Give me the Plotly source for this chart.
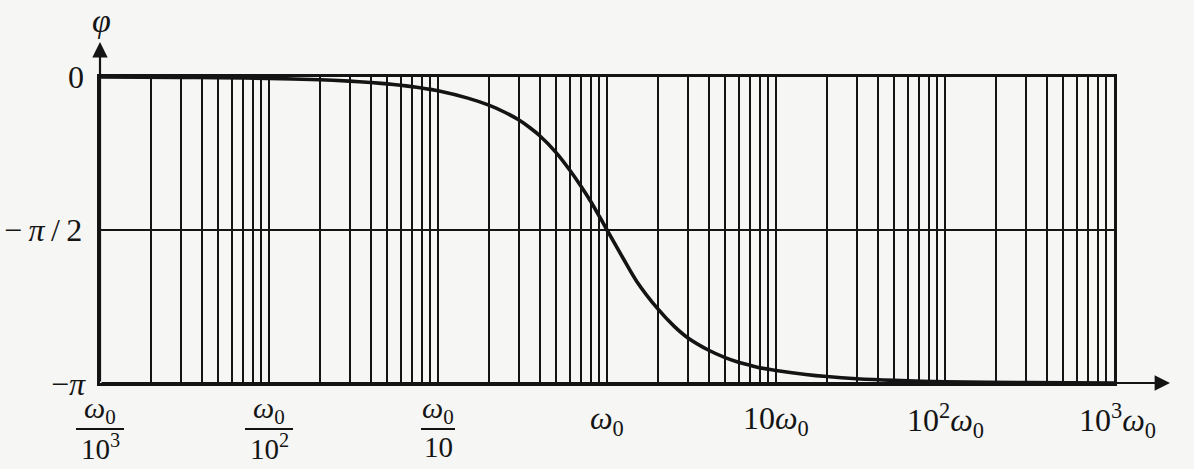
import math
import plotly.graph_objects as go

# ---- data ----
omega_ratio = [0.001, 0.003, 0.005, 0.01, 0.02, 0.03, 0.04, 0.05, 0.06, 0.07, 0.08, 0.09,
               0.1, 0.15, 0.2, 0.25, 0.3, 0.35, 0.4, 0.5, 0.6, 0.7, 0.8, 0.9, 1.0,
               1.25, 1.5, 2, 2.5, 3, 4, 5, 6, 7, 8, 10, 15, 20, 30, 50, 100, 300, 1000]
phase_over_pi = [0.0, 0.0013, 0.002, 0.0045, 0.009, 0.0135, 0.018, 0.0225, 0.027, 0.0315, 0.036, 0.0405,
                 0.045, 0.069, 0.092, 0.116, 0.140, 0.166, 0.192, 0.247, 0.303, 0.356, 0.406, 0.455, 0.5,
                 0.594, 0.668, 0.758, 0.815, 0.852, 0.893, 0.917, 0.932, 0.942, 0.950, 0.959,
                 0.972, 0.979, 0.986, 0.9915, 0.9957, 0.9985, 1.0]
phase = [-p * math.pi for p in phase_over_pi]

decade_exps = [-3, -2, -1, 0, 1, 2, 3]
minor_mults = [2, 3, 4, 5, 6, 7, 8, 9]
y_ticks = [-math.pi, -math.pi / 2, 0]
y_labels = ["−<i>π</i>", "−\u2009<i>π</i>\u2009/\u20092", "0"]
x_labels = ["", "", "", "<i>ω</i><sub>0</sub>", "10<i>ω</i><sub>0</sub>",
            "10<sup>2</sup><i>ω</i><sub>0</sub>", "10<sup>3</sup><i>ω</i><sub>0</sub>"]
frac_denoms = {-3: "10<sup>3</sup>", -2: "10<sup>2</sup>", -1: "10"}

decades = [10.0 ** k for k in decade_exps]
minors = [m * 10.0 ** k for k in decade_exps[:-1] for m in minor_mults]

# ---- layout geometry ----
W, H = 1194, 469
L, R, T, B = 100, 80, 77, 86
PW, PH = W - L - R, H - T - B
def px(x):
    return (x - L) / PW
def py(y):
    return (H - B - y) / PH

INK = "#141414"
FONT = "Liberation Serif"
FS = 32

fig = go.Figure()
fig.add_trace(go.Scatter(x=omega_ratio, y=phase, mode="lines",
                         line=dict(color=INK, width=3.6, shape="spline", smoothing=0.8),
                         hoverinfo="skip", showlegend=False))

fig.update_layout(
    width=W, height=H,
    margin=dict(l=L, r=R, t=T, b=B),
    paper_bgcolor="#f6f6f4", plot_bgcolor="#f6f6f4",
    showlegend=False,
    font=dict(family=FONT, size=FS, color=INK),
    xaxis=dict(type="log", range=[-3, 3], tickmode="array", tickvals=decades,
               showticklabels=False, ticks="", showgrid=True, gridcolor=INK, gridwidth=2,
               minor=dict(tickmode="array", tickvals=minors, showgrid=True,
                          gridcolor=INK, gridwidth=2, ticks=""),
               showline=True, linecolor=INK, linewidth=2.5, mirror=True, zeroline=False),
    yaxis=dict(range=[-math.pi, 0], tickmode="array", tickvals=y_ticks,
               showticklabels=False, ticks="", showgrid=True, gridcolor=INK, gridwidth=2,
               showline=True, linecolor=INK, linewidth=2.5, mirror=True, zeroline=False),
)

def txt(x, y, text, xanchor="center", size=FS):
    return dict(xref="paper", yref="paper", x=px(x), y=py(y), text=text,
                showarrow=False, xanchor=xanchor, yanchor="middle",
                font=dict(family=FONT, size=size, color=INK))

ann = []
# axis arrows
ann.append(dict(xref="paper", yref="paper", x=px(1170), y=py(383), ax=-(1170 - L), ay=0,
                text="", showarrow=True, arrowhead=2, arrowsize=1.4, arrowwidth=2.2, arrowcolor=INK))
ann.append(dict(xref="paper", yref="paper", x=px(100), y=py(42), ax=0, ay=(383 - 42),
                text="", showarrow=True, arrowhead=2, arrowsize=1.4, arrowwidth=2.2, arrowcolor=INK))
# axis name
ann.append(txt(101, 20, "<i>φ</i>", size=34))
# y labels
y_label_pos = [(88, 384), (84, 230), (86, 77)]
for lab, (xp, yp) in zip(y_labels, y_label_pos):
    ann.append(txt(xp, yp, lab, xanchor="right"))

shapes = []
for k, d, lab in zip(decade_exps, decades, x_labels):
    xc = L + (k + 3) / 6 * PW
    if k < 0:
        half = 24 if k < -1 else 17
        ann.append(txt(xc, 410, "<i>ω</i><sub>0</sub>", size=30))
        ann.append(txt(xc, 447, frac_denoms[k], size=29))
        shapes.append(dict(type="line", xref="paper", yref="paper",
                           x0=px(xc - half), x1=px(xc + half), y0=py(429), y1=py(429),
                           line=dict(color=INK, width=2)))
    else:
        ann.append(txt(xc + (3 if k == 3 else 0), 420, lab))

fig.update_layout(annotations=ann, shapes=shapes)
fig.write_html("out.html")
